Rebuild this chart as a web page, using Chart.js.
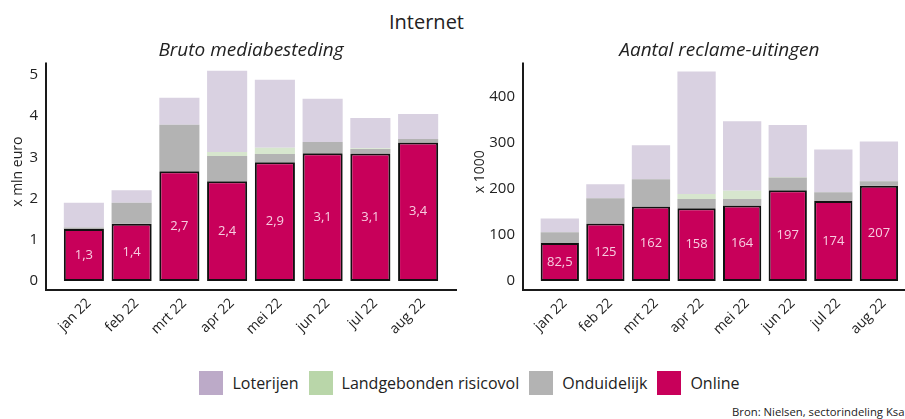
<!DOCTYPE html>
<html>
<head>
<meta charset="utf-8">
<script src="https://cdn.jsdelivr.net/npm/chart.js@4/dist/chart.umd.min.js"></script>
<style>
    body { margin: 0; width: 905px; height: 419px; overflow: hidden; background: #fff; font-family: "Open Sans", sans-serif; color: #222; position: relative; }
    #main-title { position: absolute; left: 0; width: 853px; top: 8px; text-align: center; font-size: 20px; }
    #left-chart { position: absolute; left: 0; top: 0; }
    #right-chart { position: absolute; left: 460px; top: 0; }
    #legend { position: absolute; left: 0; width: 939px; top: 371px; display: flex; justify-content: center; font-size: 16px; }
    .legend-item { display: flex; align-items: center; margin: 0 5px; }
    .legend-box { width: 24px; height: 24px; margin-right: 9px; }
    #source { position: absolute; left: 732px; top: 404px; font-size: 11.3px; white-space: nowrap; }
</style>
</head>
<body>
<div id="main-title">Internet</div>
<canvas id="left-chart"></canvas>
<canvas id="right-chart"></canvas>
<div id="legend"></div>
<div id="source">Bron: Nielsen, sectorindeling Ksa</div>
<script>
const months = ["jan 22", "feb 22", "mrt 22", "apr 22", "mei 22", "jun 22", "jul 22", "aug 22"];

// Bruto mediabesteding (x mln euro)
const spend_online = [1.26, 1.39, 2.66, 2.42, 2.88, 3.10, 3.09, 3.36];
const spend_unclear = [0.04, 0.51, 1.13, 0.61, 0.20, 0.27, 0.11, 0.08];
const spend_land = [0, 0, 0, 0.10, 0.15, 0, 0.02, 0];
const spend_lottery = [0.60, 0.30, 0.65, 1.97, 1.65, 1.05, 0.73, 0.61];
const spend_ticks = [0, 1, 2, 3, 4, 5];

// Aantal reclame-uitingen (x 1000)
const ads_online = [82.5, 125, 162, 158, 164, 197, 174, 207];
const ads_unclear = [23.5, 55, 59, 20, 14, 28, 19, 10];
const ads_land = [0, 0, 0, 11, 18, 1, 0, 0];
const ads_lottery = [30, 30, 74, 266, 151, 113, 93, 86];
const ads_ticks = [0, 100, 200, 300, 400];

const series_names = ["Online", "Onduidelijk", "Landgebonden risicovol", "Loterijen"];
const bar_colors = ["#c8005a", "#b3b3b3", "#d7e6ce", "#d9d1e1"];
const legend_colors = ["#c8005a", "#b3b3b3", "#b9d6a9", "#bcaac8"];

const font_family = "'Open Sans', sans-serif";
const text_color = "#222";

const canvas_height = 345;
const plot_bottom = 281;

// axis lines sit a bit away from the bars, like in the original
const axisLines = {
    id: "axisLines",
    afterDraw(chart) {
        let ctx = chart.ctx;
        let area = chart.chartArea;
        let x0 = area.left - 14;
        let y0 = area.bottom + 9;
        ctx.save();
        ctx.strokeStyle = "#1a1a1a";
        ctx.lineWidth = 2;
        ctx.beginPath();
        ctx.moveTo(x0, area.top);
        ctx.lineTo(x0, y0);
        ctx.lineTo(Math.min(area.right + 15, chart.width), y0);
        ctx.stroke();
        ctx.restore();
    }
};

// value labels in the middle of the online bars
const onlineLabels = {
    id: "onlineLabels",
    afterDatasetsDraw(chart) {
        let ctx = chart.ctx;
        let meta = chart.getDatasetMeta(0);
        let values = chart.data.datasets[0].data;
        let decimals = chart.options.plugins.onlineLabels.decimals;
        ctx.save();
        ctx.fillStyle = "#f7cde0";
        ctx.font = "13px " + font_family;
        ctx.textAlign = "center";
        ctx.textBaseline = "middle";
        meta.data.forEach(function(bar, i) {
            let v = values[i];
            let txt = decimals == 1 ? v.toFixed(1) : String(v);
            ctx.fillText(txt.replace(".", ","), bar.x, (bar.y + bar.base) / 2);
        });
        ctx.restore();
    }
};

function makeDatasets(series)
{
    return series.map(function(values, i) {
        return {
            label: series_names[i],
            data: values,
            backgroundColor: bar_colors[i],
            borderColor: i == 0 ? "#111" : bar_colors[i],
            borderWidth: i == 0 ? 2 : 0,
            borderSkipped: false,
            barPercentage: 0.84,
            categoryPercentage: 1
        };
    });
}

function makeChart(canvas_id, width, opts)
{
    let canvas = document.getElementById(canvas_id);
    canvas.width = width;
    canvas.height = canvas_height;
    canvas.style.width = width + "px";
    canvas.style.height = canvas_height + "px";

    return new Chart(canvas.getContext("2d"), {
        type: "bar",
        data: {
            labels: months,
            datasets: makeDatasets(opts.series)
        },
        options: {
            responsive: false,
            animation: false,
            devicePixelRatio: 1,
            layout: { padding: { left: 0, right: opts.pad_right, top: 0, bottom: 0 } },
            plugins: {
                legend: { display: false },
                tooltip: { enabled: false },
                title: {
                    display: true,
                    text: opts.title,
                    fullSize: false,
                    color: text_color,
                    font: { family: font_family, size: 19, style: "italic", weight: "normal" },
                    padding: { top: 39.6, bottom: 0 }
                },
                onlineLabels: { decimals: opts.decimals }
            },
            scales: {
                x: {
                    stacked: true,
                    grid: { display: false, drawTicks: false },
                    border: { display: false },
                    ticks: {
                        autoSkip: false,
                        minRotation: 45,
                        maxRotation: 45,
                        padding: 14,
                        labelOffset: 5,
                        color: text_color,
                        font: { family: font_family, size: 14 }
                    },
                    afterFit: function(scale) { scale.height = canvas_height - plot_bottom; }
                },
                y: {
                    stacked: true,
                    min: 0,
                    max: opts.y_max,
                    grid: { display: false, drawTicks: false },
                    border: { display: false },
                    ticks: {
                        padding: 22,
                        color: text_color,
                        font: { family: font_family, size: 15 }
                    },
                    afterBuildTicks: function(scale) {
                        scale.ticks = opts.ticks.map(function(v) { return { value: v }; });
                    },
                    title: {
                        display: true,
                        text: opts.y_title,
                        color: text_color,
                        font: { family: font_family, size: 14 },
                        padding: { top: opts.title_pad, bottom: 0 }
                    },
                    afterFit: function(scale) { scale.width = opts.y_width; }
                }
            }
        },
        plugins: [axisLines, onlineLabels]
    });
}

function buildLegend()
{
    let legend = document.getElementById("legend");
    for (let i = series_names.length - 1; i >= 0; i--)
    {
        let item = document.createElement("div");
        item.className = "legend-item";
        let box = document.createElement("span");
        box.className = "legend-box";
        box.style.background = legend_colors[i];
        let txt = document.createElement("span");
        txt.innerText = series_names[i];
        item.appendChild(box);
        item.appendChild(txt);
        legend.appendChild(item);
    }
}

makeChart("left-chart", 460, {
    series: [spend_online, spend_unclear, spend_land, spend_lottery],
    title: "Bruto mediabesteding",
    y_title: "x mln euro",
    y_max: 5.3,
    ticks: spend_ticks,
    y_width: 60,
    title_pad: 10,
    pad_right: 18,
    decimals: 1
});

makeChart("right-chart", 445, {
    series: [ads_online, ads_unclear, ads_land, ads_lottery],
    title: "Aantal reclame-uitingen",
    y_title: "x 1000",
    y_max: 475,
    ticks: ads_ticks,
    y_width: 77,
    title_pad: 12,
    pad_right: 0,
    decimals: 0
});

buildLegend();
</script>
</body>
</html>
